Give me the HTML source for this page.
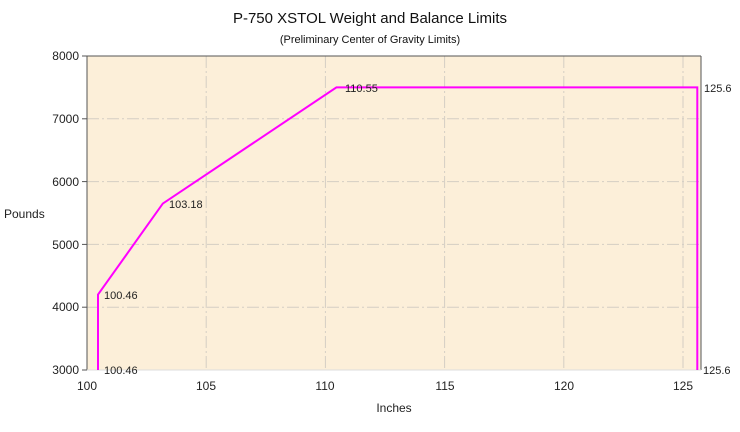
<!DOCTYPE html>
<html><head><style>body{margin:0;background:#fff}</style></head><body>
<svg width="740" height="427" xmlns="http://www.w3.org/2000/svg" font-family="Liberation Sans, sans-serif">
<rect width="740" height="427" fill="#fff"/>
<text x="370" y="23" font-size="15" text-anchor="middle" fill="#111">P-750 XSTOL Weight and Balance Limits</text>
<text x="370" y="43" font-size="11" text-anchor="middle" fill="#111">(Preliminary Center of Gravity Limits)</text>
<rect x="87" y="56" width="614" height="314" fill="#fcefd9"/>
<g stroke="#d4cec4" stroke-width="1" stroke-dasharray="12,3,2,3">
<line x1="87" y1="118.8" x2="701" y2="118.8"/><line x1="87" y1="181.6" x2="701" y2="181.6"/>
<line x1="87" y1="244.4" x2="701" y2="244.4"/><line x1="87" y1="307.2" x2="701" y2="307.2"/>
<line x1="206.2" y1="56" x2="206.2" y2="370"/><line x1="325.4" y1="56" x2="325.4" y2="370"/>
<line x1="444.6" y1="56" x2="444.6" y2="370"/><line x1="563.8" y1="56" x2="563.8" y2="370"/>
<line x1="683" y1="56" x2="683" y2="370"/>
</g>
<g stroke="#555" stroke-width="1">
<line x1="87" y1="56" x2="701" y2="56"/><line x1="87" y1="56" x2="87" y2="370"/>
<line x1="701" y1="56" x2="701" y2="370"/>
<line x1="82" y1="56" x2="87" y2="56"/><line x1="82" y1="118.8" x2="87" y2="118.8"/>
<line x1="82" y1="181.6" x2="87" y2="181.6"/><line x1="82" y1="244.4" x2="87" y2="244.4"/>
<line x1="82" y1="307.2" x2="87" y2="307.2"/><line x1="82" y1="370" x2="87" y2="370"/>
</g>
<line x1="87" y1="370" x2="701" y2="370" stroke="#ddd"/>
<polyline points="98,370 98,294.6 162.8,203.6 336.4,87.4 697.3,87.4 697.3,370" fill="none" stroke="#ff00ff" stroke-width="2"/>
<g font-size="12" fill="#222" text-anchor="end">
<text x="79" y="60">8000</text><text x="79" y="123">7000</text><text x="79" y="186">6000</text>
<text x="79" y="249">5000</text><text x="79" y="311">4000</text><text x="79" y="374">3000</text>
</g>
<g font-size="12" fill="#222" text-anchor="middle">
<text x="87" y="390">100</text><text x="206" y="390">105</text><text x="325" y="390">110</text>
<text x="445" y="390">115</text><text x="564" y="390">120</text><text x="683" y="390">125</text>
<text x="394" y="412">Inches</text>
</g>
<text x="4" y="218" font-size="12" fill="#222">Pounds</text>
<g font-size="11" fill="#222">
<text x="104" y="374">100.46</text><text x="104" y="299">100.46</text>
<text x="169" y="208">103.18</text><text x="345" y="92">110.55</text>
<text x="704" y="92">125.6</text><text x="703" y="374">125.6</text>
</g>
</svg>
</body></html>
